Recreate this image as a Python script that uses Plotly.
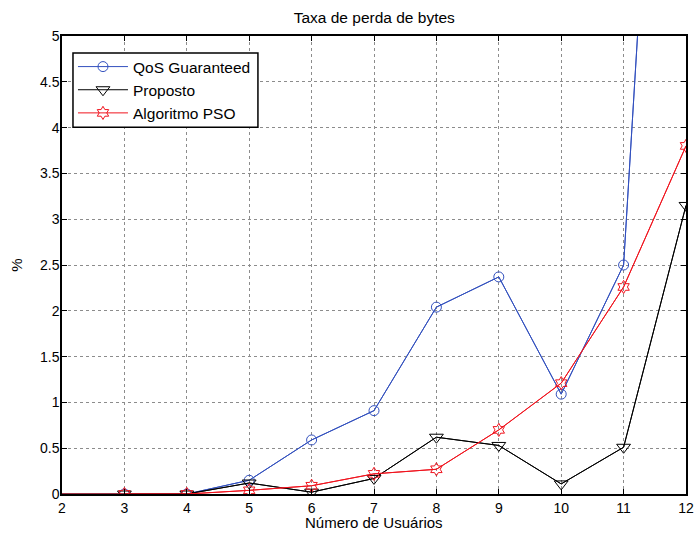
import plotly.graph_objects as go

usuarios = [2, 3, 4, 5, 6, 7, 8, 9, 10, 11, 12]
qos_guaranteed = [0, 0, 0, 0.15, 0.59, 0.91, 2.04, 2.37, 1.09, 2.50, 13.7]
proposto = [0, 0, 0, 0.12, 0.02, 0.17, 0.62, 0.53, 0.11, 0.51, 3.15]
algoritmo_pso = [0, 0, 0, 0.04, 0.09, 0.22, 0.27, 0.70, 1.21, 2.26, 3.80]

x_ticks = list(range(2, 13))
y_ticks = [0, 0.5, 1, 1.5, 2, 2.5, 3, 3.5, 4, 4.5, 5]

series = [
    ("QoS Guaranteed", qos_guaranteed, "rgb(50,80,190)", "circle-open", 10),
    ("Proposto", proposto, "black", "triangle-down-open", 12),
    ("Algoritmo PSO", algoritmo_pso, "rgb(240,20,30)", "hexagram-open", 10),
]

fig = go.Figure()
for name, vals, color, sym, size in series:
    # full line (no marker at the left border)
    fig.add_trace(go.Scatter(x=usuarios, y=vals, mode="lines", showlegend=False,
                             line=dict(color=color, width=1), hoverinfo="skip"))
    fig.add_trace(go.Scatter(x=usuarios[1:], y=vals[1:], mode="lines+markers", name=name,
                             line=dict(color=color, width=1),
                             marker=dict(symbol=sym, size=size, color=color,
                                         line=dict(color=color, width=1))))

font = "Liberation Sans, Arial, sans-serif"
axis_common = dict(showline=True, linecolor="black", linewidth=1.5, mirror="ticks",
                   ticks="inside", ticklen=5, tickcolor="black", tickwidth=1,
                   showgrid=True, gridcolor="rgb(140,140,140)", griddash="dot", gridwidth=1,
                   zeroline=False, automargin=False,
                   tickfont=dict(size=14, color="black", family=font))

fig.update_layout(
    width=694, height=533,
    margin=dict(l=62, r=8, t=36, b=39),
    paper_bgcolor="white", plot_bgcolor="white",
    title=dict(text="Taxa de perda de bytes", x=0.5393, xanchor="center",
               y=1 - 18 / 533, yanchor="middle",
               font=dict(size=15.5, color="black", family=font)),
    xaxis=dict(range=[2, 12], tickvals=x_ticks, ticktext=[str(t) for t in x_ticks],
               ticklabelstandoff=0, **axis_common),
    yaxis=dict(range=[0, 5], tickvals=y_ticks, ticktext=[f"{t:g}" for t in y_ticks],
               ticklabelstandoff=-2,
               title=dict(text="%", standoff=14,
                          font=dict(size=15, color="black", family=font)),
               **axis_common),
    legend=dict(x=0.0176, y=0.9694, xanchor="left", yanchor="top",
                bgcolor="rgba(0,0,0,0)", borderwidth=0,
                font=dict(size=15.5, color="black", family=font),
                itemwidth=50, tracegroupgap=0),
    showlegend=True,
    shapes=[dict(type="rect", xref="paper", yref="paper",
                 x0=0.0176, x1=0.314, y0=0.801, y1=0.963,
                 fillcolor="white", line=dict(color="black", width=1.5), layer="above")],
    annotations=[dict(text="Número de Usuários", xref="paper", yref="paper",
                      x=0.5, y=-28.5 / 458, xanchor="center", yanchor="middle",
                      showarrow=False, font=dict(size=15, color="black", family=font))],
)

fig.write_html("out.html", config={"displayModeBar": False},
               post_script="document.body.style.margin='0';document.body.style.overflow='hidden';")
